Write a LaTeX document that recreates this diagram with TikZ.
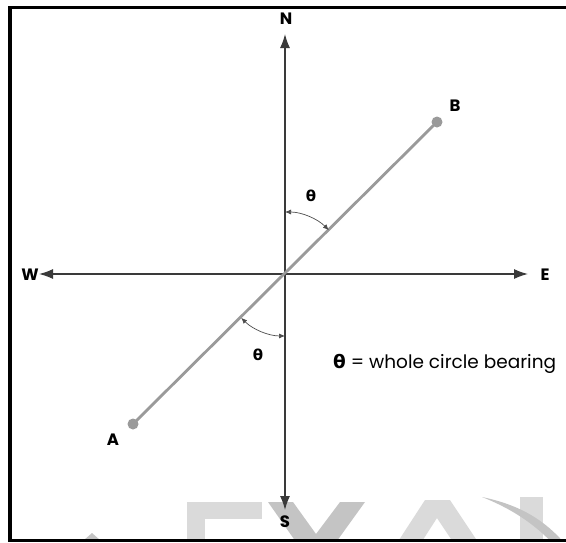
\documentclass[tikz,border=0pt]{standalone}
\usepackage{fontspec}
\setmainfont{Poppins}
\newfontfamily\thetafont{DejaVu Sans}
\usetikzlibrary{arrows.meta}
\definecolor{axisgray}{HTML}{3A3A3A}
\definecolor{linegray}{HTML}{9A9A9A}
\definecolor{wmlight}{HTML}{DADADA}
\definecolor{wmdark}{HTML}{C4C4C4}
\begin{document}
\begin{tikzpicture}[x=1pt,y=-1pt,
  axis/.style={draw=axisgray,line width=1.3pt,{Latex[length=14pt,width=10pt]}-{Latex[length=14pt,width=10pt]}},
  label/.style={font=\bfseries\fontsize{16.5}{18}\selectfont,inner sep=0pt},
  angarc/.style={draw=black!70,line width=0.7pt,{Latex[length=6pt,width=5pt]}-{Latex[length=6pt,width=5pt]}},
  thlabel/.style={font=\thetafont\bfseries\fontsize{15}{17}\selectfont,inner sep=0pt},
  pt/.style={circle,fill=linegray,minimum size=11pt,inner sep=0pt}]
\useasboundingbox (0,0) rectangle (566,542);
% watermark
\begin{scope}
\clip (10,8) rectangle (566,540);
\fill[wmlight] (187,502) rectangle (205,545);
\fill[wmlight] (187,502) rectangle (262,519);
\fill[wmdark] (268,502)--(293,502)--(316,534)--(340,502)--(365,502)--(329,552)--(303,552)--cycle;
\fill[wmlight] (425,500)--(450,500)--(490,560)--(465,560)--(437,518)--(410,560)--(386,560)--cycle;
\fill[wmlight] (520,497) rectangle (543,545);
\fill[wmdark] (482,497) .. controls (520,505) and (545,520) .. (566,545) -- (566,560) .. controls (545,530) and (515,510) .. cycle;
\fill[wmdark] (84,540)--(92,533)--(100,540)--cycle;
\end{scope}
% frame
\draw[line width=3.5pt] (566,7.3) -- (10,7.3) -- (10,540.5) -- (566,540.5);
% nodes
\coordinate (O) at (285,274);
\node[label] (N) at (286,19) {N};
\node[label] (S) at (285,522) {S};
\node[label] (W) at (30,275) {W};
\node[label] (E) at (545,275) {E};
\coordinate (Ntip) at (285,34);
\coordinate (Stip) at (285,510);
\coordinate (Wtip) at (39,274);
\coordinate (Etip) at (528,274);
\draw[axis] (Ntip) -- (Stip);
\draw[axis] (Wtip) -- (Etip);
\node[pt] (A) at (133,424) {};
\node[pt] (B) at (437,122) {};
\draw[linegray,line width=2.8pt] (A.center) -- (B.center);
\node[label] (Al) at (113,440) {A};
\node[label] (Bl) at (455,106) {B};
% angle arcs
\coordinate (u1) at (285,212);
\coordinate (l1) at (241.2,317.8);
\draw[angarc] (u1) arc[start angle=-90,end angle=-45,radius=62];
\draw[angarc] (l1) arc[start angle=135,end angle=90,radius=62];
\node[thlabel] (t1) at (311,196) {θ};
\node[thlabel] (t2) at (258,355) {θ};
\node[anchor=west,inner sep=0pt,font=\fontsize{18.5}{21}\selectfont] (def) at (333,364) {{\thetafont\bfseries θ} = whole circle bearing};
\end{tikzpicture}
\end{document}
